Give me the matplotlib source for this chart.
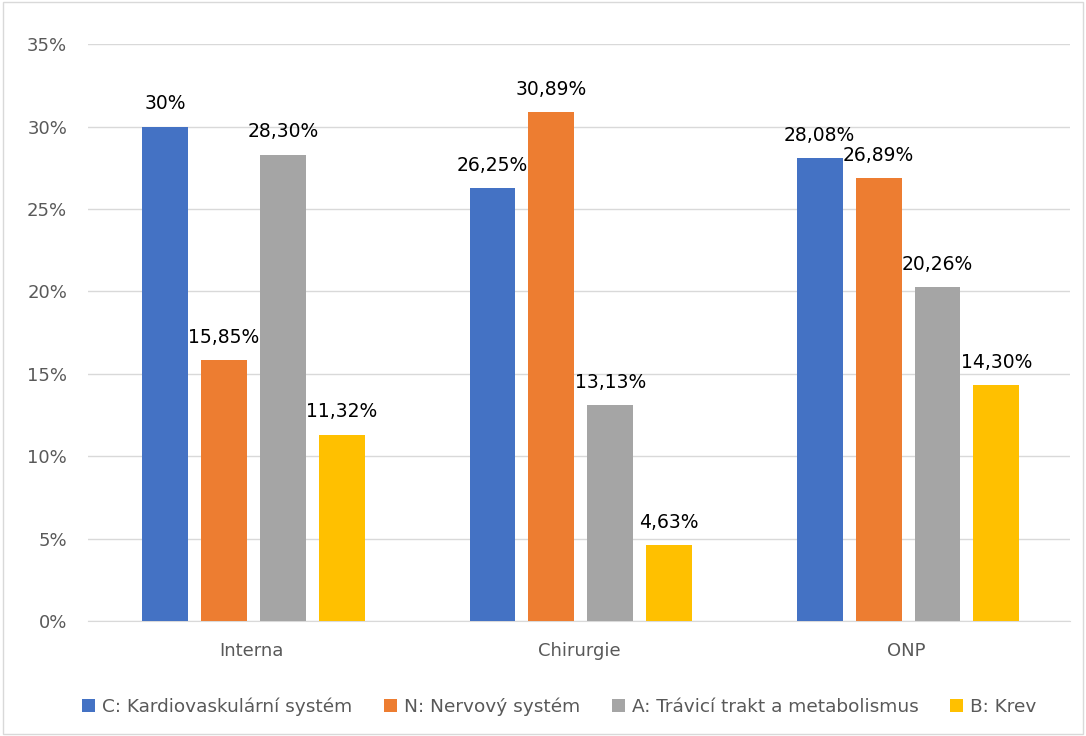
import matplotlib.pyplot as plt
import numpy as np

categories = ["Interna", "Chirurgie", "ONP"]
series_names = ["C: Kardiovaskulární systém", "N: Nervový systém",
                "A: Trávicí trakt a metabolismus", "B: Krev"]
values = [
    [30.00, 26.25, 28.08],
    [15.85, 30.89, 26.89],
    [28.30, 13.13, 20.26],
    [11.32, 4.63, 14.30],
]
labels = [
    ["30%", "26,25%", "28,08%"],
    ["15,85%", "30,89%", "26,89%"],
    ["28,30%", "13,13%", "20,26%"],
    ["11,32%", "4,63%", "14,30%"],
]
colors = ["#4472C4", "#ED7D31", "#A5A5A5", "#FFC000"]

fig = plt.figure(figsize=(10.86, 7.36), dpi=100)
ax = fig.add_axes([0.081, 0.156, 0.904, 0.784])

x = np.arange(len(categories))
width = 0.14
step = 0.18
for i, (vals, labs) in enumerate(zip(values, labels)):
    pos = x + (i - 1.5) * step + 0.006
    ax.bar(pos, vals, width, color=colors[i], label=series_names[i], zorder=3)
    for p, v, t in zip(pos, vals, labs):
        ax.text(p, v + 0.8, t, ha="center", va="bottom", fontsize=13.5, color="#000000")

ax.set_xlim(-0.5, 2.5)
ax.set_ylim(0, 35)
ax.set_yticks(np.arange(0, 36, 5))
ax.set_yticklabels([f"{t}%" for t in range(0, 36, 5)])
ax.set_xticks(x)
ax.set_xticklabels(categories)
ax.tick_params(axis="both", length=0, labelsize=13, colors="#595959")
ax.tick_params(axis="x", pad=15)
ax.tick_params(axis="y", pad=15)
ax.grid(axis="y", color="#D9D9D9", linewidth=1, zorder=0)
for s in ["top", "right", "left"]:
    ax.spines[s].set_visible(False)
ax.spines["bottom"].set_color("#D9D9D9")

leg = fig.legend(loc="lower center", bbox_to_anchor=(0.515, 0.005), ncol=4, frameon=False,
                 fontsize=13.3, handlelength=0.7, handleheight=0.7, handletextpad=0.4,
                 columnspacing=1.7)
for t in leg.get_texts():
    t.set_color("#595959")

fig.patches.append(plt.Rectangle((0.003, 0.003), 0.994, 0.994, transform=fig.transFigure,
                                 fill=False, edgecolor="#D9D9D9", linewidth=1))

fig.savefig("out.png", dpi=100)
